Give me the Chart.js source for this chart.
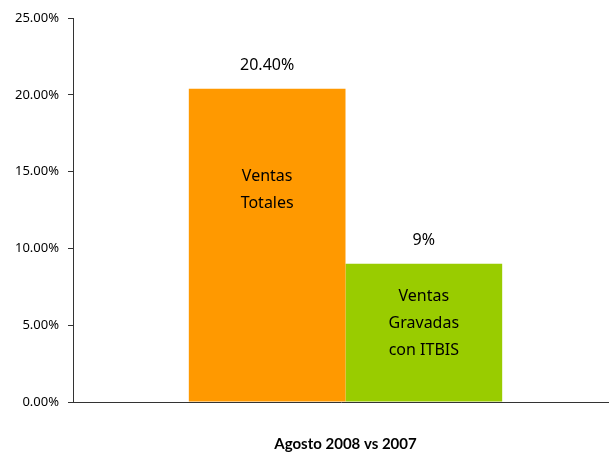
<!DOCTYPE html>
<html>
<head>
<meta charset="utf-8">
<script src="https://cdn.jsdelivr.net/npm/chart.js@4"></script>
<style>
  html, body { margin: 0; padding: 0; background: #fff; }
  #wrap { width: 609px; height: 455px; }
</style>
</head>
<body>
<div id="wrap"><canvas id="ventasChart" width="609" height="455"></canvas></div>
<script>
const categories = ["Agosto 2008 vs 2007"];
const ventasTotales = [20.4];
const ventasGravadas = [9];
const valueLabels = ["20.40%", "9%"];
const barNames = [["Ventas", "Totales"], ["Ventas", "Gravadas", "con ITBIS"]];
const yTicks = [0, 5, 10, 15, 20, 25];

// writes the value above each bar and the name inside it
const barText = {
  id: "barText",
  afterDatasetsDraw(chart) {
    const ctx = chart.ctx;
    const insideStart = [88, 33];
    ctx.save();
    ctx.fillStyle = "#000";
    ctx.textAlign = "center";
    ctx.textBaseline = "middle";
    ctx.font = "16px 'Noto Sans'";
    chart.data.datasets.forEach(function (ds, i) {
      const bar = chart.getDatasetMeta(i).data[0];
      ctx.fillText(valueLabels[i], bar.x, bar.y - 23);
      barNames[i].forEach(function (line, j) {
        ctx.fillText(line, bar.x, bar.y + insideStart[i] + j * 27);
      });
    });
    ctx.restore();
  }
};

// the x axis of the original runs a bit past the right edge
const widenX = {
  id: "widenX",
  afterLayout(chart) {
    const x = chart.scales.x;
    x.right = x.right + 9;
    x.width = x.right - x.left;
    x.configure();
  }
};

const ctx = document.getElementById("ventasChart").getContext("2d");
const config = {
  type: "bar",
  data: {
    labels: categories,
    datasets: [
      { data: ventasTotales, backgroundColor: "#FF9900", categoryPercentage: 0.575, barPercentage: 1 },
      { data: ventasGravadas, backgroundColor: "#99CC00", categoryPercentage: 0.575, barPercentage: 1 }
    ]
  },
  options: {
    responsive: false,
    animation: false,
    layout: { padding: { top: 18, right: 0, left: 0, bottom: 0 } },
    scales: {
      x: {
        grid: { display: false },
        border: { color: "#333", width: 1 },
        ticks: {
          color: "#000",
          padding: 25,
          font: { family: "Lato", size: 15, weight: "bold" }
        },
        afterFit: function (scale) { scale.height = 53; }
      },
      y: {
        min: 0,
        max: 25,
        afterBuildTicks: function (scale) {
          scale.ticks = yTicks.map(function (v) { return { value: v }; });
        },
        grid: { drawOnChartArea: false, drawTicks: true, tickLength: 5, color: "#333" },
        border: { color: "#333", width: 1 },
        ticks: {
          color: "#000",
          padding: 9,
          font: { family: "'Noto Sans'", size: 13 },
          callback: function (v) { return v.toFixed(2) + "%"; }
        },
        afterFit: function (scale) { scale.width = 73; }
      }
    },
    plugins: {
      legend: { display: false },
      title: { display: false },
      tooltip: { enabled: false }
    }
  },
  plugins: [widenX, barText]
};
new Chart(ctx, config);
</script>
</body>
</html>
